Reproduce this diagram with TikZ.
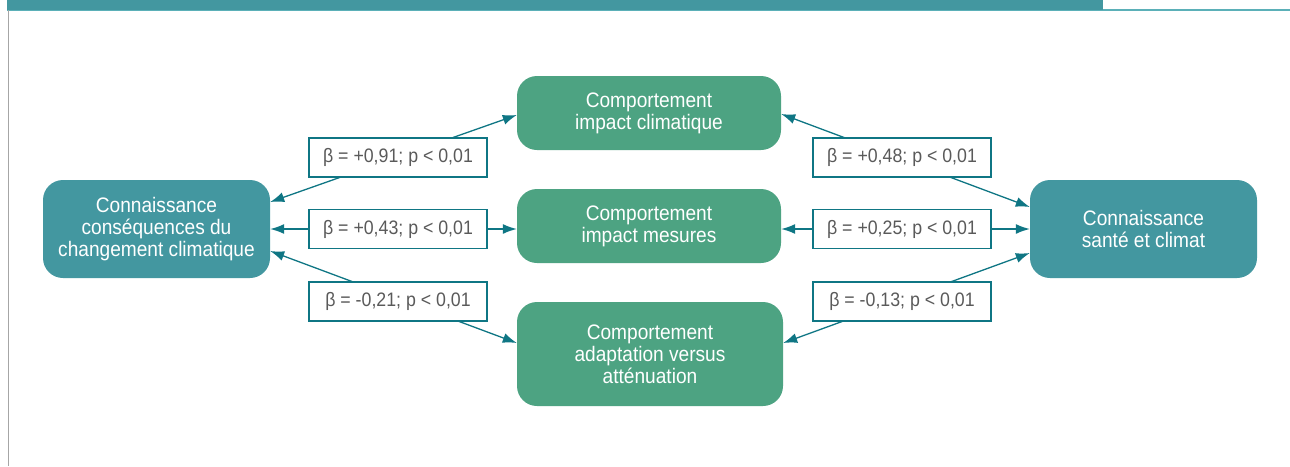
\documentclass[tikz,border=0pt]{standalone}
\usepackage{fontspec}
\setmainfont[FakeStretch=0.91]{Liberation Sans}
\usetikzlibrary{arrows.meta,calc}
\definecolor{teal1}{HTML}{4397A0}
\definecolor{green1}{HTML}{4DA382}
\definecolor{linec}{HTML}{0F7684}
\definecolor{labc}{HTML}{5A5A5A}
\definecolor{barline}{HTML}{5BB0B8}
\tikzset{
  kbox/.style={rounded corners=20pt, fill=teal1, text=white, align=center, minimum width=227pt, minimum height=98pt, inner sep=0pt, font=\fontsize{21}{22}\selectfont},
  cbox/.style={rounded corners=20pt, fill=green1, text=white, align=center, minimum width=264pt, minimum height=74pt, inner sep=0pt, font=\fontsize{21}{22}\selectfont},
  lab/.style={draw=linec, line width=1.2pt, fill=white, text=labc, minimum width=178pt, minimum height=39pt, inner sep=0pt, font=\fontsize{19.5}{22}\selectfont},
  conn/.style={draw=linec, line width=1.3pt, {Latex[length=14pt,width=10pt]}-{Latex[length=14pt,width=10pt]}}
}
\begin{document}
\begin{tikzpicture}[x=1pt,y=-1pt]
\useasboundingbox (0,0) rectangle (1290,466);
% frame
\fill[barline] (7,9) rectangle (1290,11);
\fill[teal1] (7,0) rectangle (1103,10);
\draw[gray!70, line width=0.8pt] (8,10) -- (8,466);
% boxes
\node[kbox] (L) at (156.5,229) {Connaissance\\conséquences du\\changement climatique};
\node[kbox] (R) at (1143.5,229) {Connaissance\\santé et climat};
\node[cbox] (T) at (649,113) {Comportement\\impact climatique};
\node[cbox] (M) at (649,226) {Comportement\\impact mesures};
\node[cbox, minimum width=266pt, minimum height=104pt] (B) at (650,354) {Comportement\\adaptation versus\\atténuation};
% connectors
\draw[conn] ($(L.east)+(0,-27)$) -- ($(T.west)+(0,2)$);
\draw[conn] ($(L.east)+(0,0)$) -- ($(M.west)+(0,3)$);
\draw[conn] ($(L.east)+(0,22)$) -- ($(B.west)+(0,-11)$);
\draw[conn] ($(T.east)+(0,1)$) -- ($(R.west)+(0,-22)$);
\draw[conn] ($(M.east)+(0,3)$) -- ($(R.west)+(0,0)$);
\draw[conn] ($(B.east)+(0,-11)$) -- ($(R.west)+(0,24)$);
% labels
\node[lab] (l1) at (398,157.5) {β = +0,91; p < 0,01};
\node[lab] (l2) at (398,229) {β = +0,43; p < 0,01};
\node[lab] (l3) at (398,301.5) {β = -0,21; p < 0,01};
\node[lab] (r1) at (902,157.5) {β = +0,48; p < 0,01};
\node[lab] (r2) at (902,229) {β = +0,25; p < 0,01};
\node[lab] (r3) at (902,301.5) {β = -0,13; p < 0,01};
\end{tikzpicture}
\end{document}
